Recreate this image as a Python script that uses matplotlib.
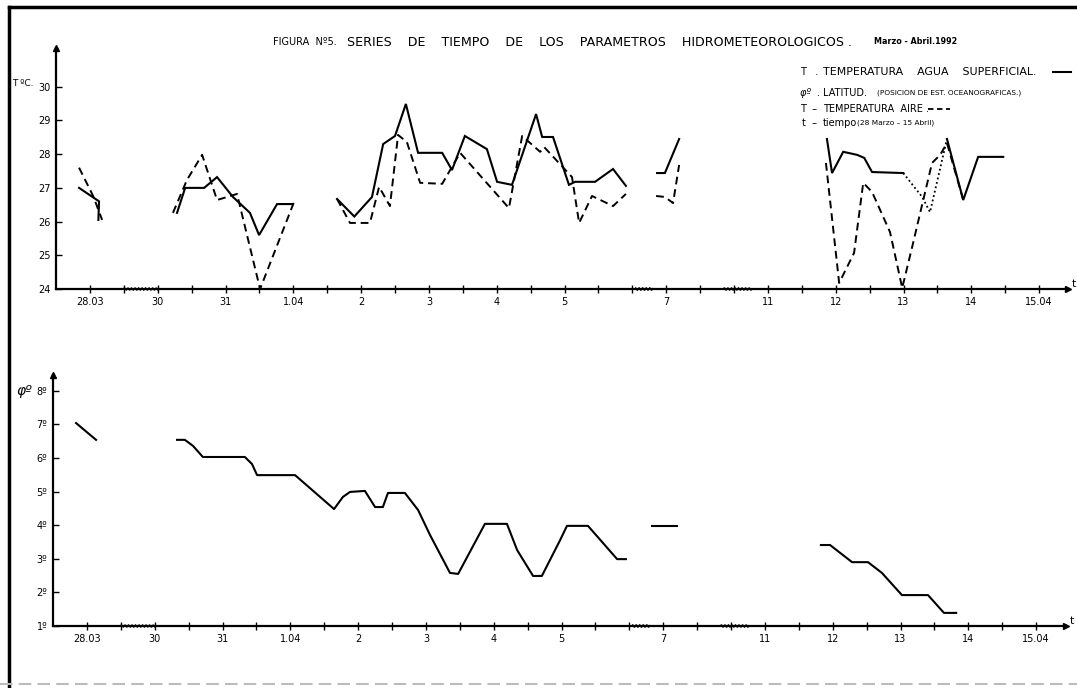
import numpy as np
import matplotlib
matplotlib.use("Agg")
import matplotlib.pyplot as plt
from matplotlib.lines import Line2D

# x is measured in axis tick steps (half days on the drawn, broken time axis)
tick_pos = [1, 3, 5, 7, 9, 11, 13, 15, 18, 21, 23, 25, 27, 29]
tick_lab = ["28.03", "30", "31", "1.04", "2", "3", "4", "5", "7", "11", "12", "13", "14", "15.04"]

# temperatura agua superficial (solid), one list per drawn piece
agua_x = [[0.68, 1.27, 1.25],
          [3.57, 3.81, 4.37, 4.75, 5.22, 5.72, 5.99, 6.52, 6.99],
          [8.29, 8.80, 9.32, 9.65, 10.00, 10.32, 10.68, 11.39, 11.68, 12.06, 12.71, 13.01,
           13.45, 14.16, 14.34, 14.66, 15.13, 15.31, 15.90, 16.43, 16.81],
          [17.73, 17.96, 18.38],
          [22.74, 22.89, 23.22, 23.63, 23.84, 24.07, 24.99],
          [26.28, 26.76, 27.20, 27.94]]
agua_t = [[27.0, 26.6, 26.05],
          [26.26, 27.0, 27.0, 27.32, 26.73, 26.26, 25.6, 26.52, 26.52],
          [26.67, 26.15, 26.73, 28.30, 28.54, 29.49, 28.04, 28.04, 27.53, 28.54, 28.15, 27.18,
           27.09, 29.19, 28.51, 28.51, 27.09, 27.18, 27.18, 27.56, 27.06],
          [27.44, 27.44, 28.45],
          [28.45, 27.44, 28.07, 27.98, 27.89, 27.47, 27.44],
          [28.45, 26.64, 27.92, 27.92]]

# dotted piece of water temperature (13 -> 13.5)
punt_x = [24.99, 25.55, 25.78, 26.28]
punt_t = [27.44, 26.73, 26.28, 28.45]

# temperatura aire (dashed)
aire_x = [[0.68, 1.10, 1.36],
          [3.45, 3.86, 4.31, 4.75, 5.34, 6.02, 7.02],
          [8.29, 8.67, 9.26, 9.53, 9.85, 10.09, 10.35, 10.74, 11.39, 11.92, 13.36, 13.75,
           14.28, 14.40, 15.22, 15.43, 15.81, 16.43, 16.81],
          [17.70, 17.96, 18.20, 18.38],
          [22.71, 23.10, 23.54, 23.81, 24.07, 24.60, 24.96, 25.28, 25.58, 25.84, 26.08,
           26.28, 26.76]]
aire_t = [[27.6, 26.75, 26.05],
          [26.26, 27.23, 27.98, 26.64, 26.82, 24.0, 26.58],
          [26.67, 25.96, 25.96, 27.03, 26.46, 28.57, 28.36, 27.15, 27.12, 28.04, 26.40, 28.54,
           28.07, 28.21, 27.32, 25.96, 26.76, 26.46, 26.82],
          [26.76, 26.73, 26.55, 27.68],
          [27.74, 24.18, 25.07, 27.15, 26.88, 25.69, 24.03, 25.36, 26.64, 27.74, 27.98,
           28.33, 26.64]]

# latitud (grados)
lat_x = [[0.68, 1.27],
         [3.66, 3.89, 4.13, 4.42, 5.66, 5.87, 6.02, 7.14, 8.29, 8.55, 8.76, 9.20, 9.50, 9.73,
          9.88, 10.38, 10.77, 11.12, 11.71, 11.95, 12.74, 13.39, 13.69, 14.16, 14.42, 14.96,
          15.16, 15.78, 16.64, 16.90],
         [17.67, 18.41],
         [22.65, 22.92, 23.57, 24.04, 24.45, 25.04, 25.81, 26.28, 26.64]]
lat_v = [[7.04, 6.54],
         [6.54, 6.54, 6.36, 6.03, 6.03, 5.82, 5.49, 5.49, 4.48, 4.84, 4.99, 5.02, 4.54, 4.54,
          4.96, 4.96, 4.45, 3.71, 2.58, 2.55, 4.04, 4.04, 3.26, 2.49, 2.49, 3.56,
          3.98, 3.98, 2.99, 2.99],
         [3.98, 3.98],
         [3.41, 3.41, 2.90, 2.90, 2.58, 1.92, 1.92, 1.39, 1.39]]

W, H = 1077, 688
fig = plt.figure(figsize=(W / 100, H / 100), dpi=100)
fig.patch.set_facecolor("white")


def px_axes(left, right, top, bottom):
    return fig.add_axes([left / W, 1 - bottom / H, (right - left) / W, (bottom - top) / H])


def style_axis(ax, xmax):
    for s in ("top", "right"):
        ax.spines[s].set_visible(False)
    for s in ("left", "bottom"):
        ax.spines[s].set_linewidth(1.6)
    ax.set_xlim(0, xmax)
    ax.set_xticks(range(1, 30))
    ax.set_xticklabels([tick_lab[tick_pos.index(k)] if k in tick_pos else "" for k in range(1, 30)],
                       fontsize=7)
    ax.tick_params(axis="x", direction="inout", length=6, width=1, pad=3)
    ax.tick_params(axis="y", direction="in", length=4, width=1, labelsize=7, pad=4)
    ax.plot(0, 1, marker="^", color="k", markersize=4, transform=ax.transAxes, clip_on=False)
    ax.plot(1, 0, marker=">", color="k", markersize=4, transform=ax.transAxes, clip_on=False)
    ax.text(1.004, 0.0, "t", transform=ax.transAxes, fontsize=8, va="bottom", ha="left")
    # small wiggles where the time axis is broken
    for a, b in [(2.0, 3.0), (17.1, 17.6), (19.7, 20.5)]:
        xs = np.linspace(a, b, 40)
        ax.plot(xs, np.full_like(xs, ax.get_ylim()[0]) + 0.04 * np.sin(xs * 60), color="k",
                lw=0.8, clip_on=False)


# ---------- top panel : temperature ----------
ax1 = px_axes(56, 1068, 48, 289)
ax1.set_ylim(24, 31.15)
ax1.set_yticks([24, 25, 26, 27, 28, 29, 30])
style_axis(ax1, 29.85)
for xs, ys in zip(agua_x, agua_t):
    ax1.plot(xs, ys, color="k", lw=1.5, solid_joinstyle="miter")
ax1.plot(punt_x, punt_t, color="k", lw=1.3, ls=(0, (1, 1.5)))
for xs, ys in zip(aire_x, aire_t):
    ax1.plot(xs, ys, color="k", lw=1.4, ls=(0, (4, 2.5)))

# ---------- bottom panel : latitude ----------
ax2 = px_axes(53, 1066, 375, 626)
ax2.set_ylim(1, 8.47)
ax2.set_yticks(range(1, 9))
ax2.set_yticklabels([f"{v}º" for v in range(1, 9)])
style_axis(ax2, 29.88)
for xs, ys in zip(lat_x, lat_v):
    ax2.plot(xs, ys, color="k", lw=1.5, solid_joinstyle="round")

# axis names
fig.text(12 / W, 1 - 84 / H, "T ºC.", fontsize=6.5, va="center")
fig.text(16 / W, 1 - 391 / H, "φº", fontsize=10, va="center", style="italic")

# title
fig.text(273 / W, 1 - 42 / H, "FIGURA  Nº5.", fontsize=7, va="center")
fig.text(347 / W, 1 - 42 / H,
         "SERIES    DE    TIEMPO    DE    LOS    PARAMETROS    HIDROMETEOROLOGICOS .",
         fontsize=9.1, va="center")
fig.text(874 / W, 1 - 42 / H, "Marzo - Abril.1992", fontsize=5.8, va="center", weight="bold")

# legend block
lx = 800 / W
tx = 823 / W
fig.text(lx, 1 - 72 / H, "T   .", fontsize=7, va="center")
fig.text(tx, 1 - 72 / H, "TEMPERATURA    AGUA    SUPERFICIAL.", fontsize=7.9, va="center")
fig.add_artist(Line2D([1053 / W, 1071 / W], [1 - 72 / H, 1 - 72 / H], color="k", lw=1.5))
fig.text(lx, 1 - 93 / H, "φº  .", fontsize=7, va="center", style="italic")
fig.text(tx, 1 - 93 / H, "LATITUD.", fontsize=7, va="center")
fig.text(877 / W, 1 - 93 / H, "(POSICION DE EST. OCEANOGRAFICAS.)", fontsize=5.3, va="center")
fig.text(lx, 1 - 109 / H, "T  –", fontsize=7, va="center")
fig.text(tx, 1 - 109 / H, "TEMPERATURA  AIRE .", fontsize=7, va="center")
fig.add_artist(Line2D([928 / W, 950 / W], [1 - 109 / H, 1 - 109 / H], color="k", lw=1.3,
                      ls=(0, (3, 2))))
fig.text(lx + 2 / W, 1 - 123 / H, "t  –", fontsize=7, va="center")
fig.text(tx, 1 - 123 / H, "tiempo", fontsize=7, va="center")
fig.text(857 / W, 1 - 123 / H, "(28 Marzo – 15 Abril)", fontsize=5.3, va="center")

# page frame
fig.add_artist(Line2D([9 / W, 9 / W], [0, 1 - 7 / H], color="k", lw=2.5))
fig.add_artist(Line2D([9 / W, 1], [1 - 7 / H, 1 - 7 / H], color="k", lw=2.5))
fig.add_artist(Line2D([0, 1], [1 - 684 / H, 1 - 684 / H], color="#bbbbbb", lw=1.5,
                      ls=(0, (6, 3))))

fig.savefig("out.png", dpi=100)
